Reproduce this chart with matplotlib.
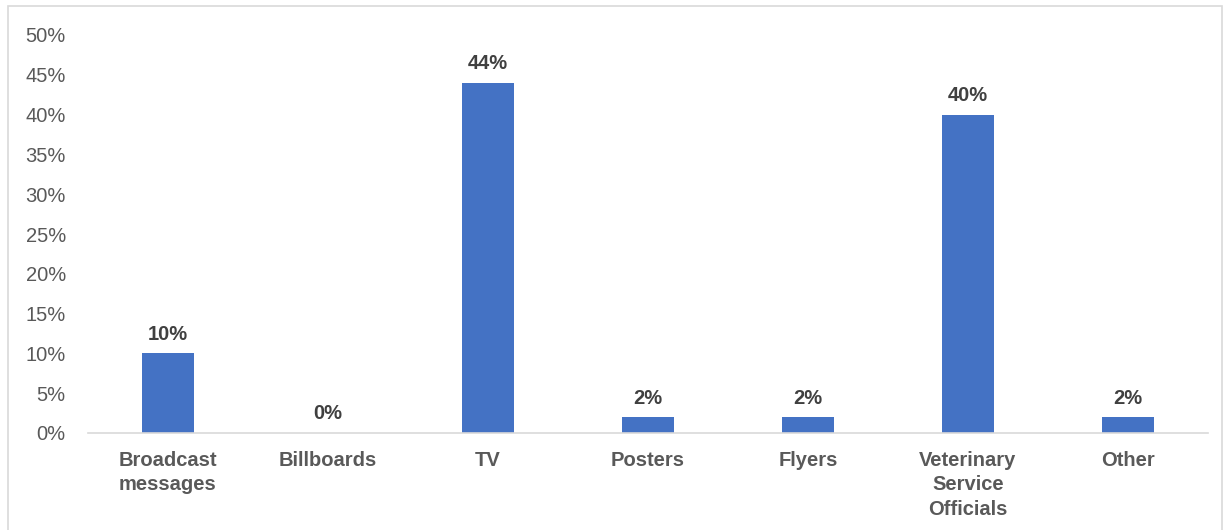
import matplotlib.pyplot as plt
from matplotlib.patches import Rectangle

categories = ['Broadcast\nmessages', 'Billboards', 'TV', 'Posters', 'Flyers',
              'Veterinary\nService\nOfficials', 'Other']
values = [10, 0, 44, 2, 2, 40, 2]
yticks = [0, 5, 10, 15, 20, 25, 30, 35, 40, 45, 50]

plt.rcParams['font.family'] = ['Liberation Sans', 'DejaVu Sans']

fig = plt.figure(figsize=(12.32, 5.30), dpi=100)
ax = fig.add_axes([88 / 1232, 1 - 433 / 530, 1120 / 1232, 398 / 530])

x = range(len(categories))
ax.bar(x, values, width=0.32, color='#4472C4', zorder=2)

for xi, v in zip(x, values):
    ax.text(xi, v + 1.2, f'{v}%', ha='center', va='bottom',
            fontsize=14.5, fontweight='bold', color='#404040')

ax.set_xlim(-0.5, len(categories) - 0.5)
ax.set_ylim(0, 50)
ax.set_yticks(yticks)
ax.set_yticklabels([f'{t}%' for t in yticks], fontsize=14.5, color='#595959')
ax.set_xticks(list(x))
ax.set_xticklabels(categories, fontsize=14.5, fontweight='bold', color='#595959',
                   linespacing=1.35, va='top')

for side in ['top', 'right', 'left']:
    ax.spines[side].set_visible(False)
ax.spines['bottom'].set_color('#D9D9D9')
ax.spines['bottom'].set_linewidth(1.2)
ax.tick_params(axis='both', length=0)
ax.tick_params(axis='x', pad=13)
ax.tick_params(axis='y', pad=16)

# outer chart border
fig.patches.append(Rectangle((8 / 1232, -0.05), 1214 / 1232, 1.05 - 6 / 530,
                             transform=fig.transFigure, fill=False,
                             edgecolor='#D9D9D9', linewidth=1.2))

fig.savefig('out.png', dpi=100)
